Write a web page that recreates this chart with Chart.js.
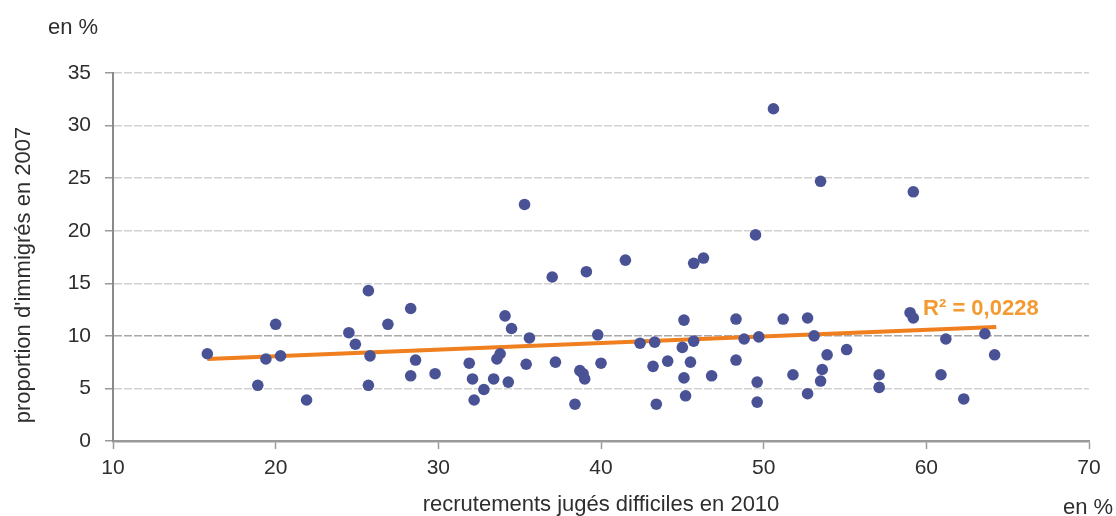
<!DOCTYPE html>
<html lang="fr">
<head>
<meta charset="utf-8">
<title>Recrutements difficiles et proportion d'immigrés</title>
<script src="https://cdn.jsdelivr.net/npm/chart.js@4.4.1/dist/chart.umd.min.js"></script>
<style>
  html, body { margin: 0; padding: 0; background: #fff; }
  #wrap { width: 1116px; height: 516px; position: relative; }
</style>
</head>
<body>
<div id="wrap"><canvas id="immigres-chart"></canvas></div>
<script>
// Un point par métier : recrutements jugés difficiles en 2010 (x), proportion d'immigrés en 2007 (y)
const recrutements = [
  15.8, 18.9, 19.4, 20.0, 20.3, 21.9, 24.5, 24.9, 25.7, 25.8,
  25.7, 26.9, 28.3, 28.6, 28.3, 29.8, 31.9, 32.1, 32.2, 32.8,
  33.4, 33.6, 33.8, 34.1, 34.3, 34.5, 35.3, 35.4, 35.6, 37.0,
  37.2, 38.4, 38.7, 38.9, 39.0, 39.1, 39.8, 40.0, 41.5, 42.4,
  43.2, 43.3, 43.4, 44.1, 45.0, 45.1, 45.1, 45.2, 45.5, 45.7,
  45.7, 46.3, 46.8, 48.3, 48.3, 48.8, 49.5, 49.6, 49.6, 49.7,
  50.6, 51.2, 51.8, 52.7, 52.7, 53.1, 53.5, 53.5, 53.6, 53.9,
  55.1, 57.1, 57.1, 59.0, 59.2, 59.2, 60.9, 61.2, 62.3, 63.6,
  64.2
];
const immigres = [
  8.3, 5.3, 7.8, 11.1, 8.1, 3.9, 10.3, 9.2, 14.3, 8.1,
  5.3, 11.1, 12.6, 7.7, 6.2, 6.4, 7.4, 5.9, 3.9, 4.9,
  5.9, 7.8, 8.3, 11.9, 5.6, 10.7, 22.5, 7.3, 9.8, 15.6,
  7.5, 3.5, 6.7, 6.4, 5.9, 16.1, 10.1, 7.4, 17.2, 9.3,
  7.1, 9.4, 3.5, 7.6, 8.9, 11.5, 6.0, 4.3, 7.5, 9.5,
  16.9, 17.4, 6.2, 11.6, 7.7, 9.7, 19.6, 5.6, 3.7, 9.9,
  31.6, 11.6, 6.3, 4.5, 11.7, 10.0, 24.7, 5.7, 6.8, 8.2,
  8.7, 6.3, 5.1, 12.2, 11.7, 23.7, 6.3, 9.7, 4.0, 10.2,
  8.2
];

// droite de tendance linéaire (extrémités) et son R²
const trendX = [15.8, 64.3];
const trendY = [7.8, 10.85];
const r2Text = 'R² = 0,0228';
const r2At = [59.8, 12.6];

// axes
const xTicks = [10, 20, 30, 40, 50, 60, 70];
const yTicks = [0, 5, 10, 15, 20, 25, 30, 35];

const FONT = '"Liberation Sans", Arial, sans-serif';
const TEXT = '#2e2e2e';
const ORANGE = '#ef7f1f';

const points = recrutements.map((x, i) => ({ x: x, y: immigres[i] }));
const trend = trendX.map((x, i) => ({ x: x, y: trendY[i] }));

// textes hors axes : unités, titre vertical, R²
const extraText = {
  id: 'extraText',
  afterDraw(chart) {
    const { ctx, scales } = chart;
    ctx.save();
    ctx.font = '22px ' + FONT;
    ctx.fillStyle = TEXT;
    ctx.textBaseline = 'alphabetic';
    ctx.textAlign = 'left';
    ctx.fillText('en %', 48, 34);
    ctx.fillText('en %', 1063, 514);

    ctx.save();
    ctx.translate(30, 275);
    ctx.rotate(-Math.PI / 2);
    ctx.textAlign = 'center';
    ctx.fillText("proportion d'immigrés en 2007", 0, 0);
    ctx.restore();

    ctx.font = 'bold 22px ' + FONT;
    ctx.fillStyle = '#f39b32';
    ctx.textBaseline = 'middle';
    ctx.fillText(r2Text, scales.x.getPixelForValue(r2At[0]), scales.y.getPixelForValue(r2At[1]));
    ctx.restore();
  }
};

const ctx = document.getElementById('immigres-chart');
new Chart(ctx, {
  type: 'scatter',
  data: {
    datasets: [
      {
        label: 'métiers',
        data: points,
        backgroundColor: '#4a5296',
        borderWidth: 0,
        pointRadius: 5.8,
        order: 1
      },
      {
        type: 'line',
        label: 'tendance',
        data: trend,
        borderColor: ORANGE,
        borderWidth: 4,
        pointRadius: 0,
        fill: false,
        order: 2
      }
    ]
  },
  options: {
    responsive: true,
    maintainAspectRatio: false,
    animation: false,
    layout: { padding: { top: 73, right: 27, bottom: 0, left: 0 } },
    plugins: {
      legend: { display: false },
      tooltip: { enabled: false }
    },
    scales: {
      x: {
        type: 'linear',
        min: xTicks[0],
        max: xTicks[xTicks.length - 1],
        afterFit: s => { s.height = 75; },
        afterBuildTicks: s => { s.ticks = xTicks.map(v => ({ value: v })); },
        grid: {
          drawOnChartArea: false,
          drawTicks: true,
          tickLength: 8,
          tickColor: '#9a9a9a',
          tickWidth: 1.5
        },
        border: { display: true, color: '#9a9a9a', width: 2.5 },
        ticks: {
          padding: 7,
          color: TEXT,
          font: { family: FONT, size: 21 }
        },
        title: {
          display: true,
          text: 'recrutements jugés difficiles en 2010',
          color: TEXT,
          font: { family: FONT, size: 22, lineHeight: 1 },
          padding: { top: 0, bottom: 0 }
        }
      },
      y: {
        type: 'linear',
        min: yTicks[0],
        max: yTicks[yTicks.length - 1],
        afterFit: s => { s.width = 113; },
        afterBuildTicks: s => { s.ticks = yTicks.map(v => ({ value: v })); },
        grid: {
          color: c => (c.tick && c.tick.value === 10 ? '#a8a8a8' : '#d2d2d2'),
          lineWidth: 1.5,
          drawTicks: true,
          tickLength: 8,
          tickColor: '#9a9a9a',
          tickWidth: 1.5
        },
        border: { display: true, color: '#8a8a8a', width: 2, dash: [8, 2] },
        ticks: {
          padding: 14,
          color: TEXT,
          font: { family: FONT, size: 21 }
        }
      }
    }
  },
  plugins: [extraText]
});
</script>
</body>
</html>
